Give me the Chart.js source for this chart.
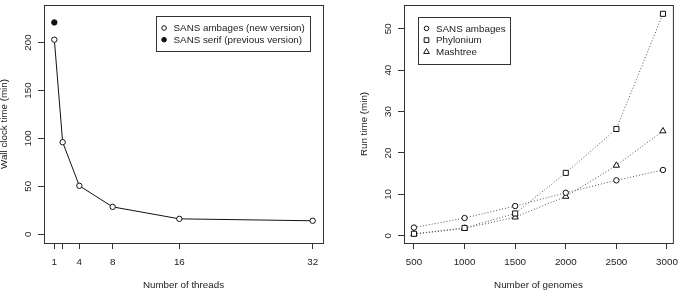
<!DOCTYPE html>
<html>
<head>
<meta charset="utf-8">
<script src="https://cdn.jsdelivr.net/npm/chart.js@4.4.1/dist/chart.umd.min.js"></script>
<style>
body { margin: 0; background: #fff; }
#wrap { position: relative; width: 685px; height: 290px; }
#threadsChart { position: absolute; left: 0; top: 0; }
#genomesChart { position: absolute; left: 340px; top: 0; }
</style>
</head>
<body>
<div id="wrap">
<canvas id="threadsChart" width="340" height="290"></canvas>
<canvas id="genomesChart" width="345" height="290"></canvas>
</div>
<script>
// left panel: wall clock time vs threads
const threads = [1, 2, 4, 8, 16, 32];
const ambagesWallClock = [203, 96, 50.5, 28.5, 16, 14];
const serifThreads = [1];
const serifWallClock = [221];
const threadTicks = [1, 2, 4, 8, 16, 32];
const threadTickLabels = ['1', '', '4', '8', '16', '32'];
const wallClockTicks = [0, 50, 100, 150, 200];

// right panel: run time vs genomes
const genomes = [500, 1000, 1500, 2000, 2500, 2960];
const ambagesRunTime = [2.0, 4.3, 7.2, 10.4, 13.4, 15.9];
const phyloniumRunTime = [0.5, 1.9, 5.4, 15.2, 25.8, 53.6];
const mashtreeRunTime = [0.4, 1.8, 4.5, 9.5, 17.0, 25.3];
const genomeTicks = [500, 1000, 1500, 2000, 2500, 3000];
const runTimeTicks = [0, 10, 20, 30, 40, 50];

const FONT = "'Liberation Sans', Arial, Helvetica, sans-serif";
const FONT_SIZE = 9.8;
const INK = '#222';

Chart.defaults.font.family = FONT;
Chart.defaults.font.size = FONT_SIZE;
Chart.defaults.color = INK;

const toPoints = (xs, ys) => xs.map((x, i) => ({ x: x, y: ys[i] }));

function drawMarker(ctx, style, x, y, r, filled) {
    ctx.save();
    ctx.lineWidth = 1;
    ctx.strokeStyle = '#111';
    ctx.fillStyle = filled ? '#111' : '#fff';
    ctx.beginPath();
    if (style === 'rect') {
        const s = r * Math.SQRT1_2;
        ctx.rect(x - s, y - s, 2 * s, 2 * s);
    } else if (style === 'triangle') {
        const hw = r * Math.sqrt(3) / 2;
        ctx.moveTo(x, y - r);
        ctx.lineTo(x + hw, y + r / 2);
        ctx.lineTo(x - hw, y + r / 2);
        ctx.closePath();
    } else {
        ctx.arc(x, y, r, 0, Math.PI * 2);
    }
    ctx.fill();
    ctx.stroke();
    ctx.restore();
}

// R-style frame, rotated y tick labels and boxed legend
const rFrame = {
    id: 'rFrame',
    afterDraw(chart, args, opts) {
        const { ctx, chartArea: a } = chart;
        ctx.save();
        ctx.strokeStyle = '#333';
        ctx.lineWidth = 1;
        ctx.strokeRect(a.left + 0.5, a.top + 0.5, a.right - a.left, a.bottom - a.top);

        // y tick labels, rotated like R
        const ys = chart.scales.y;
        ctx.fillStyle = INK;
        ctx.font = FONT_SIZE + 'px ' + FONT;
        ctx.textAlign = 'center';
        ctx.textBaseline = 'middle';
        ys.ticks.forEach(t => {
            const py = ys.getPixelForValue(t.value);
            ctx.save();
            ctx.translate(a.left - 15.5, py);
            ctx.rotate(-Math.PI / 2);
            ctx.fillText(String(t.value), 0, 0);
            ctx.restore();
        });

        // legend
        const lg = opts.legend;
        if (lg) {
            const rowH = 11.7;
            const textW = Math.max(...lg.items.map(it => ctx.measureText(it.text).width));
            const w = 18 + textW + 4.5;
            const h = rowH * (lg.items.length + 1);
            const bx = lg.align === 'right' ? a.right - lg.insetX - w : a.left + lg.insetX;
            const by = a.top + lg.insetY;
            ctx.strokeStyle = '#333';
            ctx.strokeRect(Math.round(bx) + 0.5, Math.round(by) + 0.5, Math.round(w), Math.round(h));
            ctx.textAlign = 'left';
            lg.items.forEach((it, i) => {
                const cy = by + rowH * (i + 1);
                drawMarker(ctx, it.style, bx + 8.5, cy, it.r, it.filled);
                ctx.fillStyle = INK;
                ctx.fillText(it.text, bx + 18, cy + 0.5);
            });
        }
        ctx.restore();
    }
};

function rAxes(xTicks, xLabels, xMin, xMax, yTicks, yMin, yMax, xTitle, yTitle, yTitlePad, yWidth) {
    const tickGrid = { drawOnChartArea: false, drawTicks: true, tickLength: 6, color: '#333', lineWidth: 1 };
    return {
        x: {
            type: 'linear',
            min: xMin,
            max: xMax,
            border: { display: false },
            grid: tickGrid,
            afterBuildTicks: s => { s.ticks = xTicks.map(v => ({ value: v })); },
            afterFit: s => { s.height = 47; },
            ticks: {
                autoSkip: false,
                maxRotation: 0,
                padding: 7,
                color: INK,
                callback: (v, i) => xLabels[i],
            },
            title: {
                display: true,
                text: xTitle,
                color: INK,
                font: { size: FONT_SIZE, lineHeight: 1 },
                padding: { top: 0, bottom: 0 },
            },
        },
        y: {
            type: 'linear',
            min: yMin,
            max: yMax,
            border: { display: false },
            grid: tickGrid,
            afterBuildTicks: s => { s.ticks = yTicks.map(v => ({ value: v })); },
            afterFit: s => { s.width = yWidth; },
            ticks: { display: false },
            title: {
                display: true,
                text: yTitle,
                color: INK,
                font: { size: FONT_SIZE, lineHeight: 1 },
                padding: { top: yTitlePad, bottom: 0 },
            },
        },
    };
}

const threadsChart = new Chart(document.getElementById('threadsChart'), {
    type: 'scatter',
    data: {
        datasets: [
            {
                label: 'SANS ambages (new version)',
                data: toPoints(threads, ambagesWallClock),
                showLine: true,
                borderColor: '#111',
                borderWidth: 1,
                pointStyle: 'circle',
                pointRadius: 2.7,
                pointBorderColor: '#111',
                pointBackgroundColor: '#fff',
                pointBorderWidth: 1,
            },
            {
                label: 'SANS serif (previous version)',
                data: toPoints(serifThreads, serifWallClock),
                pointStyle: 'circle',
                pointRadius: 2.7,
                pointBorderColor: '#111',
                pointBackgroundColor: '#111',
                pointBorderWidth: 1,
            },
        ],
    },
    options: {
        responsive: false,
        animation: false,
        devicePixelRatio: 1,
        layout: { padding: { top: 1, right: 17, bottom: 0, left: 0 } },
        scales: rAxes(threadTicks, threadTickLabels, -0.24, 33.24, wallClockTicks, -9.2, 239.2,
            'Number of threads', 'Wall clock time (min)', -1, 44),
        plugins: {
            legend: { display: false },
            tooltip: { enabled: false },
            rFrame: {
                legend: {
                    align: 'right', insetX: 13.7, insetY: 11.3,
                    items: [
                        { text: 'SANS ambages (new version)', style: 'circle', r: 2.3, filled: false },
                        { text: 'SANS serif (previous version)', style: 'circle', r: 2.3, filled: true },
                    ],
                },
            },
        },
    },
    plugins: [rFrame],
});

const dotted = { showLine: true, borderColor: '#555', borderWidth: 1, borderDash: [1, 2],
    pointBorderColor: '#111', pointBackgroundColor: '#fff', pointBorderWidth: 1 };

const genomesChart = new Chart(document.getElementById('genomesChart'), {
    type: 'scatter',
    data: {
        datasets: [
            Object.assign({ label: 'SANS ambages', data: toPoints(genomes, ambagesRunTime),
                pointStyle: 'circle', pointRadius: 2.7 }, dotted),
            Object.assign({ label: 'Phylonium', data: toPoints(genomes, phyloniumRunTime),
                pointStyle: 'rect', pointRadius: 3.6 }, dotted),
            Object.assign({ label: 'Mashtree', data: toPoints(genomes, mashtreeRunTime),
                pointStyle: 'triangle', pointRadius: 3.6 }, dotted),
        ],
    },
    options: {
        responsive: false,
        animation: false,
        devicePixelRatio: 1,
        layout: { padding: { top: 3, right: 4, bottom: 0, left: 0 } },
        scales: rAxes(genomeTicks, genomeTicks.map(String), 401.6, 3058.4, runTimeTicks, -1.73, 55.73,
            'Number of genomes', 'Run time (min)', 19.5, 64),
        plugins: {
            legend: { display: false },
            tooltip: { enabled: false },
            rFrame: {
                legend: {
                    align: 'left', insetX: 14, insetY: 11.7,
                    items: [
                        { text: 'SANS ambages', style: 'circle', r: 2.3, filled: false },
                        { text: 'Phylonium', style: 'rect', r: 3.3, filled: false },
                        { text: 'Mashtree', style: 'triangle', r: 3.3, filled: false },
                    ],
                },
            },
        },
    },
    plugins: [rFrame],
});
</script>
</body>
</html>
